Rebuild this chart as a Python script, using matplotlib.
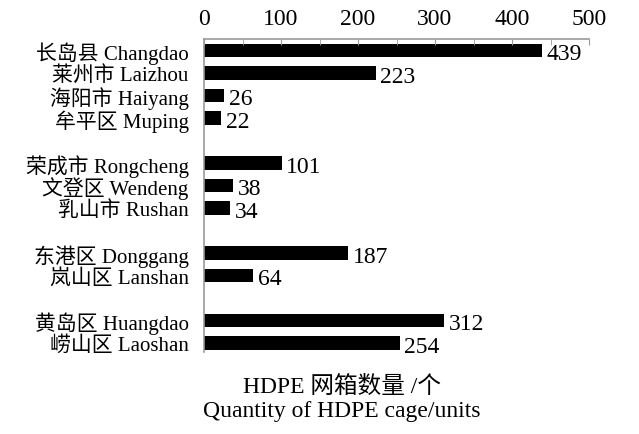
import matplotlib
matplotlib.use("Agg")
import matplotlib.pyplot as plt
from matplotlib.ticker import MultipleLocator

plt.rcParams['font.family'] = ['Liberation Serif', 'Noto Sans CJK SC']

# data
labels = ["长岛县 Changdao", "莱州市 Laizhou", "海阳市 Haiyang", "牟平区 Muping",
          "荣成市 Rongcheng", "文登区 Wendeng", "乳山市 Rushan",
          "东港区 Donggang", "岚山区 Lanshan",
          "黄岛区 Huangdao", "崂山区 Laoshan"]
values = [439, 223, 26, 22, 101, 38, 34, 187, 64, 312, 254]
# row slots (groups separated by an empty row)
slots = [0, 1, 2, 3, 5, 6, 7, 9, 10, 12, 13]
xticks = [0, 100, 200, 300, 400, 500]

fig = plt.figure(figsize=(6.39, 4.35), dpi=100)
ax = fig.add_axes([204 / 639, 1 - 353 / 435, 385 / 639, 313 / 435])

ax.barh(slots, values, height=0.6, color="black")
for s, v in zip(slots, values):
    ax.text(v + 6, s + 0.15, str(v), va="center", ha="left", fontsize=17)

ax.set_xlim(0, 500)
ax.set_ylim(13.4, -0.5)
ax.set_yticks(slots)
ax.set_yticklabels(labels, fontsize=15)
ax.set_xticks(xticks)
ax.xaxis.set_minor_locator(MultipleLocator(50))
ax.xaxis.tick_top()
ax.tick_params(axis="x", which="both", direction="in", length=4, color="#999999",
               labelsize=17, pad=7)
ax.tick_params(axis="y", length=0, pad=11)

for side in ["right", "bottom"]:
    ax.spines[side].set_visible(False)
for side in ["top", "left"]:
    ax.spines[side].set_color("#999999")
    ax.spines[side].set_linewidth(1.2)

fig.text(342 / 639, 1 - 387 / 435, "HDPE 网箱数量 /个", ha="center", va="center", fontsize=17)
fig.text(342 / 639, 1 - 412 / 435, "Quantity of HDPE cage/units", ha="center", va="center", fontsize=17)

fig.savefig("out.png", dpi=100)
